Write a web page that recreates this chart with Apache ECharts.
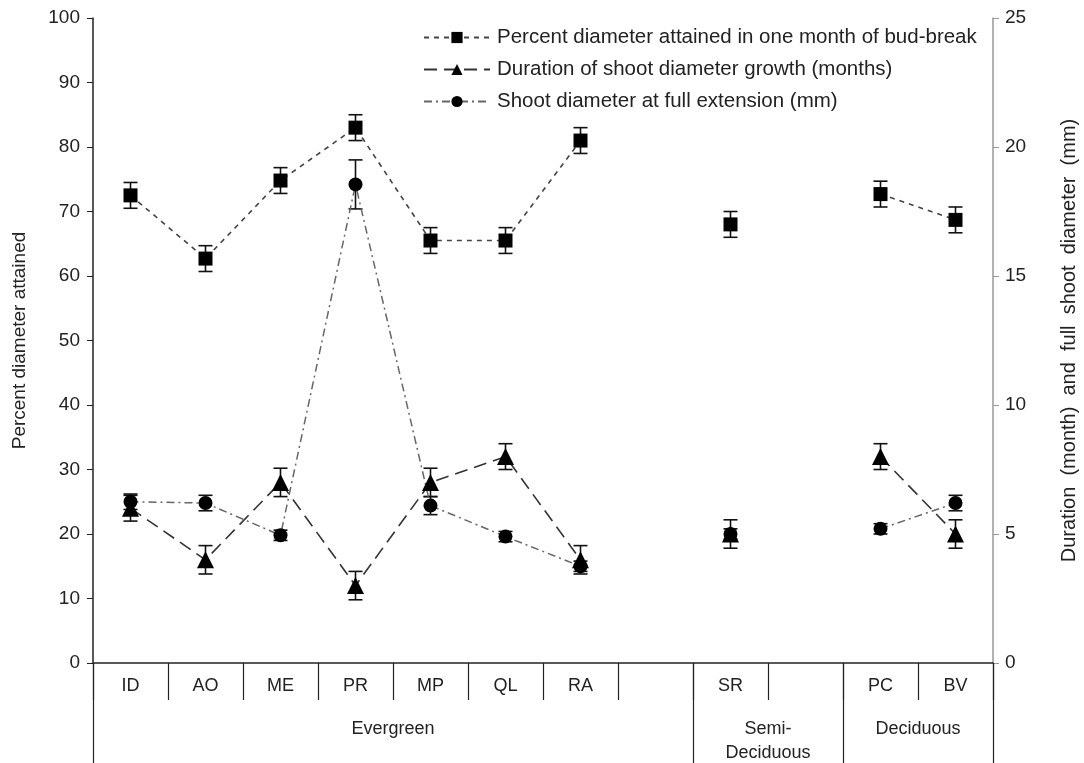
<!DOCTYPE html>
<html>
<head>
<meta charset="utf-8">
<script src="https://cdn.jsdelivr.net/npm/echarts@6/dist/echarts.min.js"></script>
<style>
  html, body { margin: 0; padding: 0; background: #fff; }
  #chart { width: 1084px; height: 763px; }
</style>
</head>
<body>
<div id="chart"></div>
<script>
  // species slots, blanks are the empty columns in the figure
  const categories = ['ID', 'AO', 'ME', 'PR', 'MP', 'QL', 'RA', '', 'SR', '', 'PC', 'BV']
  const groupNames = ['Evergreen', 'Semi-\nDeciduous', 'Deciduous']
  const groupCenters = [4, 9, 11]
  const groupEdges = [0, 8, 10, 12]

  // percent diameter attained in one month (left axis)
  const percentVals = [72.5, 62.7, 74.8, 83, 65.5, 65.5, 81, null, 68, null, 72.7, 68.7]
  const percentErr = [2, 2, 2, 2, 2, 2, 2, null, 2, null, 2, 2]
  // duration of growth, months (right axis)
  const durationVals = [6, 4, 7, 3, 7, 8, 4, null, 5, null, 8, 5]
  const durationErr = [0.5, 0.55, 0.55, 0.55, 0.55, 0.5, 0.55, null, 0.55, null, 0.5, 0.55]
  // shoot diameter at full extension, mm (right axis)
  const diameterVals = [6.25, 6.2, 4.95, 18.55, 6.1, 4.9, 3.75, null, 5, null, 5.2, 6.2]
  const diameterErr = [0.3, 0.3, 0.2, 0.95, 0.35, 0.2, 0.2, null, 0.2, null, 0.2, 0.3]

  const seriesNames = [
    'Percent diameter attained in one month of bud-break',
    'Duration of shoot diameter growth (months)',
    'Shoot diameter at full extension (mm)'
  ]

  const font = 'Liberation Sans, Arial, sans-serif'

  function errData(vals, errs) {
    const out = []
    vals.forEach((v, i) => {
      if (v != null) out.push([i, v - errs[i], v + errs[i]])
    })
    return out
  }

  function errBars(params, api) {
    const x = api.value(0)
    const lo = api.coord([x, api.value(1)])
    const hi = api.coord([x, api.value(2)])
    const w = 7
    const st = { stroke: '#111', lineWidth: 1.6 }
    return {
      type: 'group',
      children: [
        { type: 'line', shape: { x1: lo[0], y1: lo[1], x2: hi[0], y2: hi[1] }, style: st },
        { type: 'line', shape: { x1: lo[0] - w, y1: lo[1], x2: lo[0] + w, y2: lo[1] }, style: st },
        { type: 'line', shape: { x1: hi[0] - w, y1: hi[1], x2: hi[0] + w, y2: hi[1] }, style: st }
      ]
    }
  }

  const myChart = echarts.init(document.getElementById('chart'))
  myChart.setOption({
    animation: false,
    backgroundColor: '#fff',
    textStyle: { fontFamily: font },
    grid: { left: 93, right: 91, top: 18, bottom: 100, outerBoundsMode: 'none', containLabel: false },
    legend: {
      data: seriesNames,
      orient: 'vertical',
      left: 418,
      top: 22,
      itemWidth: 66,
      itemHeight: 14,
      itemGap: 11,
      textStyle: { fontSize: 20.5, color: '#222', fontFamily: font, padding: [0, 0, 0, 2] }
    },
    xAxis: [
      {
        type: 'category',
        data: categories,
        boundaryGap: true,
        axisLine: { lineStyle: { color: '#222', width: 1.5 } },
        axisTick: { show: true, interval: 0, alignWithLabel: false, length: 37, lineStyle: { color: '#222', width: 1.2 } },
        axisLabel: { interval: 0, margin: 14, fontSize: 18, color: '#222' }
      },
      {
        type: 'value',
        min: 0,
        max: 12,
        position: 'bottom',
        splitLine: { show: false },
        axisLine: { show: false },
        axisTick: { show: true, customValues: groupEdges, length: 100, lineStyle: { color: '#222', width: 1.2 } },
        axisLabel: {
          customValues: groupCenters,
          margin: 54,
          fontSize: 18,
          color: '#222',
          lineHeight: 24,
          formatter: v => groupNames[groupCenters.indexOf(v)]
        }
      }
    ],
    yAxis: [
      {
        type: 'value',
        min: 0,
        max: 100,
        interval: 10,
        name: 'Percent diameter attained',
        nameLocation: 'middle',
        nameGap: 64,
        nameTextStyle: { fontSize: 19, color: '#222' },
        splitLine: { show: false },
        axisLine: { show: true, lineStyle: { color: '#222', width: 1.5 } },
        axisTick: { show: true, length: 6, lineStyle: { color: '#222' } },
        axisLabel: { margin: 13, fontSize: 19, color: '#222' }
      },
      {
        type: 'value',
        min: 0,
        max: 25,
        interval: 5,
        position: 'right',
        name: 'Duration  (month)  and  full  shoot  diameter  (mm)',
        nameLocation: 'middle',
        nameGap: 66,
        nameTextStyle: { fontSize: 20, color: '#222' },
        splitLine: { show: false },
        axisLine: { show: true, lineStyle: { color: '#999', width: 1.5 } },
        axisTick: { show: true, length: 6, lineStyle: { color: '#999' } },
        axisLabel: { margin: 12, fontSize: 19, color: '#222' }
      }
    ],
    series: [
      {
        name: seriesNames[0],
        type: 'line',
        yAxisIndex: 0,
        data: percentVals,
        symbol: 'rect',
        symbolSize: 14,
        itemStyle: { color: '#000' },
        lineStyle: { color: '#444', width: 1.6, type: [5, 5] },
        z: 5
      },
      {
        name: seriesNames[1],
        type: 'line',
        yAxisIndex: 1,
        data: durationVals,
        symbol: 'triangle',
        symbolSize: 17,
        itemStyle: { color: '#000' },
        lineStyle: { color: '#333', width: 1.6, type: [13, 7] },
        z: 5
      },
      {
        name: seriesNames[2],
        type: 'line',
        yAxisIndex: 1,
        data: diameterVals,
        symbol: 'circle',
        symbolSize: 14,
        itemStyle: { color: '#000' },
        lineStyle: { color: '#666', width: 1.5, type: [8, 4, 2, 4] },
        z: 5
      },
      {
        type: 'custom',
        yAxisIndex: 0,
        data: errData(percentVals, percentErr),
        renderItem: errBars,
        z: 4
      },
      {
        type: 'custom',
        yAxisIndex: 1,
        data: errData(durationVals, durationErr),
        renderItem: errBars,
        z: 4
      },
      {
        type: 'custom',
        yAxisIndex: 1,
        data: errData(diameterVals, diameterErr),
        renderItem: errBars,
        z: 4
      }
    ]
  })
</script>
</body>
</html>
